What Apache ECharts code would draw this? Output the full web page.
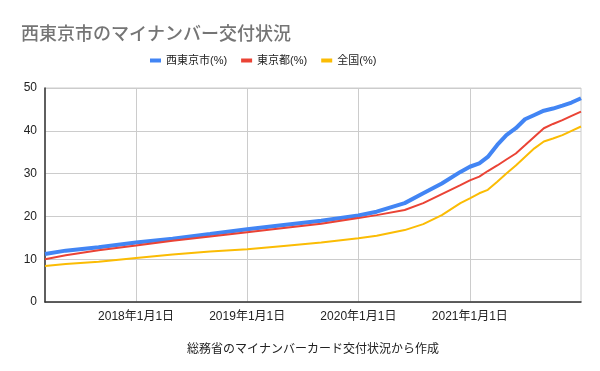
<!DOCTYPE html>
<html>
<head>
<meta charset="utf-8">
<script src="https://cdn.jsdelivr.net/npm/echarts@6/dist/echarts.min.js"></script>
<style>html,body{margin:0;padding:0;background:#fff}#c{width:600px;height:371px}</style>
</head>
<body>
<div id="c"></div>
<script>
const dates = ['2017-03-08','2017-05-15','2017-08-31','2018-01-01','2018-05-01','2018-09-01','2019-01-01','2019-05-01','2019-09-01','2020-01-01','2020-03-01','2020-06-01','2020-08-01','2020-10-01','2020-12-01','2021-01-01','2021-02-01','2021-03-01','2021-04-01','2021-05-01','2021-06-01','2021-07-01','2021-08-01','2021-09-01','2021-10-01','2021-11-01','2021-12-01','2022-01-01'];
const nishitokyo = [11.2,12.0,12.8,13.9,14.8,15.9,17.0,18.0,19.0,20.2,21.1,23.1,25.4,27.7,30.4,31.6,32.4,33.9,36.7,39.0,40.6,42.7,43.7,44.7,45.2,45.9,46.6,47.6];
const tokyo = [10.0,10.9,12.1,13.2,14.3,15.3,16.3,17.3,18.3,19.6,20.3,21.5,23.1,25.2,27.3,28.4,29.3,30.6,31.9,33.3,34.7,36.6,38.6,40.6,41.6,42.5,43.5,44.5];
const zenkoku = [8.4,8.9,9.4,10.3,11.1,11.8,12.3,13.1,13.9,14.9,15.5,16.8,18.2,20.3,23.1,24.2,25.4,26.2,28.1,30.0,31.9,33.9,35.9,37.5,38.2,39.0,40.0,41.0];
const seriesNames = ['西東京市(%)','東京都(%)','全国(%)'];
const xTicks = ['2018-01-01','2019-01-01','2020-01-01','2021-01-01'];
const yTicks = [0,10,20,30,40,50];

const ts = s => +new Date(s + 'T00:00:00');
const pair = arr => dates.map((d,i)=>[ts(d), arr[i]]);
const FONT = "Arial, 'Liberation Sans', 'Noto Sans CJK JP', sans-serif";

const chart = echarts.init(document.getElementById('c'), null, {renderer:'canvas'});
chart.setOption({
  animation:false,
  title:{text:'西東京市のマイナンバー交付状況', left:16, top:19,
    textStyle:{fontSize:18, fontWeight:500, color:'#757575', fontFamily:"'Noto Sans CJK JP', sans-serif"}},
  legend:{top:50, left:145, icon:'rect', itemWidth:11, itemHeight:4, itemGap:14,
    textStyle:{fontSize:11, color:'#222', fontFamily:FONT}, data:seriesNames},
  grid:{left:45, right:19, top:88, bottom:69, show:true, borderColor:'#cccccc', borderWidth:1},
  xAxis:{type:'value', min:ts(dates[0]), max:ts(dates[dates.length-1]),
    name:'総務省のマイナンバーカード交付状況から作成', nameLocation:'middle', nameGap:42,
    nameTextStyle:{fontSize:12, color:'#222', fontFamily:FONT},
    axisLine:{lineStyle:{color:'#333', width:1.5}},
    axisTick:{show:false, customValues:xTicks.map(ts)},
    axisLabel:{customValues:xTicks.map(ts), fontSize:12, color:'#222', fontFamily:FONT, margin:9,
      formatter:v=>{const d=new Date(v);return d.getFullYear()+'年'+(d.getMonth()+1)+'月'+d.getDate()+'日';}},
    splitLine:{show:true, lineStyle:{color:'#cccccc', width:1}}},
  yAxis:{type:'value', min:yTicks[0], max:yTicks[yTicks.length-1], interval:10,
    axisLine:{show:true, lineStyle:{color:'#333', width:1.5}},
    axisTick:{show:false},
    axisLabel:{fontSize:12, color:'#222', fontFamily:FONT, margin:8},
    splitLine:{lineStyle:{color:'#cccccc', width:1}}},
  series:[
    {name:seriesNames[0], type:'line', data:pair(nishitokyo), showSymbol:false, lineStyle:{width:4, color:'#4285F4'}, itemStyle:{color:'#4285F4'}, z:3},
    {name:seriesNames[1], type:'line', data:pair(tokyo), showSymbol:false, lineStyle:{width:2, color:'#EA4335'}, itemStyle:{color:'#EA4335'}, z:4},
    {name:seriesNames[2], type:'line', data:pair(zenkoku), showSymbol:false, lineStyle:{width:2, color:'#FBBC04'}, itemStyle:{color:'#FBBC04'}, z:5}
  ]
});
</script>
</body>
</html>
